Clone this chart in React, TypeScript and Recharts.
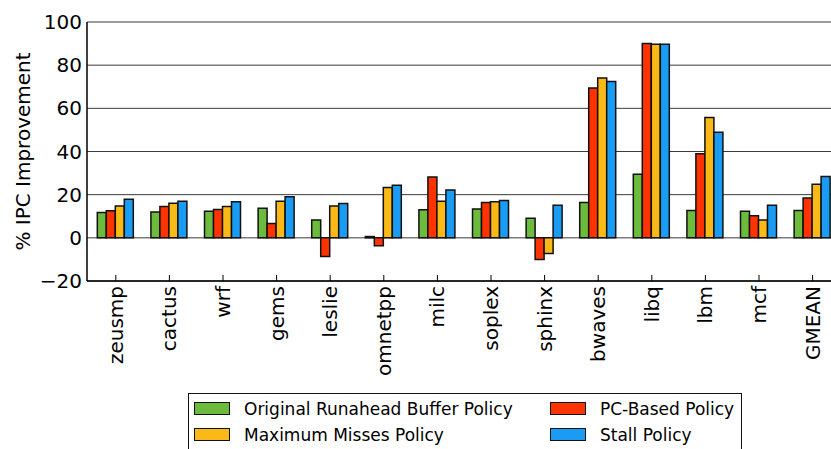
import { BarChart, Bar, XAxis, YAxis, CartesianGrid } from "recharts";

const categories = [
  "zeusmp", "cactus", "wrf", "gems", "leslie", "omnetpp", "milc",
  "soplex", "sphinx", "bwaves", "libq", "lbm", "mcf", "GMEAN",
];
const originalPolicy = [11.7, 12.0, 12.3, 13.7, 8.3, 0.6, 13.0, 13.4, 9.1, 16.4, 29.5, 12.7, 12.3, 12.7];
const pcBasedPolicy = [12.5, 14.5, 13.1, 6.6, -8.6, -3.7, 28.2, 16.4, -10.0, 69.4, 90.0, 39.0, 10.2, 18.4];
const maxMissesPolicy = [14.8, 16.0, 14.5, 17.0, 14.8, 23.3, 17.0, 16.7, -7.3, 74.1, 89.7, 55.7, 8.3, 24.8];
const stallPolicy = [17.9, 17.0, 16.7, 19.0, 15.9, 24.4, 22.2, 17.3, 15.1, 72.4, 89.7, 48.9, 15.1, 28.4];
const yTicks = [-20, 0, 20, 40, 60, 80, 100];

const series = [
  { key: "original", name: "Original Runahead Buffer Policy", color: "#6cbb3c" },
  { key: "pcBased", name: "PC-Based Policy", color: "#ff3300" },
  { key: "maxMisses", name: "Maximum Misses Policy", color: "#fbb917" },
  { key: "stall", name: "Stall Policy", color: "#1a9cf5" },
];

const data = categories.map((name, i) => ({
  name,
  original: originalPolicy[i],
  pcBased: pcBasedPolicy[i],
  maxMisses: maxMissesPolicy[i],
  stall: stallPolicy[i],
}));

const FONT = "'DejaVu Sans', sans-serif";

const BottomTick = (props: any) => {
  const { x, y, payload } = props;
  const ty = y + 5;
  return (
    <g>
      <line x1={x} y1={y} x2={x} y2={y - 6} stroke="#000" strokeWidth={1} />
      <text
        x={x}
        y={ty}
        transform={`rotate(-90, ${x}, ${ty})`}
        textAnchor="end"
        dominantBaseline="central"
        fontFamily={FONT}
        fontSize={20}
        fill="#000"
      >
        {payload.value}
      </text>
    </g>
  );
};

const TopTick = (props: any) => {
  const { x, y } = props;
  return <line x1={x} y1={y} x2={x} y2={y + 6} stroke="#000" strokeWidth={1} />;
};

function LegendBox() {
  // two rows, two columns like the matplotlib legend
  return (
    <div
      style={{
        position: "absolute",
        left: 188,
        top: 393,
        width: 554,
        height: 70,
        border: "1.5px solid #111",
        background: "#fff",
        fontFamily: FONT,
        fontSize: 17,
        color: "#000",
        boxSizing: "border-box",
      }}
    >
      {series.map((s, i) => {
        const col = i % 2;
        const row = Math.floor(i / 2);
        return (
          <div
            key={s.key}
            style={{
              position: "absolute",
              left: col === 0 ? 5 : 361,
              top: 4.5 + row * 26,
              display: "flex",
              alignItems: "center",
              whiteSpace: "nowrap",
              height: 20,
            }}
          >
            <span
              style={{
                display: "inline-block",
                width: 36,
                height: 12.5,
                background: s.color,
                border: "1.5px solid #111",
                boxSizing: "border-box",
                marginRight: 14,
              }}
            />
            <span>{s.name}</span>
          </div>
        );
      })}
    </div>
  );
}

export default function App() {
  return (
    <div
      style={{
        position: "absolute",
        left: 0,
        top: 0,
        width: 831,
        height: 449,
        overflow: "hidden",
        background: "#fff",
      }}
    >
      <BarChart
        width={850}
        height={449}
        data={data}
        margin={{ top: 22, right: 8.6, bottom: 88, left: 27 }}
        barGap={0}
        barCategoryGap="15.5%"
      >
        <CartesianGrid vertical={false} stroke="#3a3a3a" strokeWidth={1} />
        <XAxis
          dataKey="name"
          height={80}
          padding={{ left: 2, right: 2 }}
          tickSize={0}
          tickMargin={0}
          interval={0}
          tick={<BottomTick />}
          tickLine={false}
          axisLine={{ stroke: "#000", strokeWidth: 1.5 }}
        />
        <XAxis
          xAxisId="top"
          dataKey="name"
          orientation="top"
          height={0}
          padding={{ left: 2, right: 2 }}
          tickSize={0}
          tickMargin={0}
          interval={0}
          tick={<TopTick />}
          tickLine={false}
          axisLine={{ stroke: "#000", strokeWidth: 1.5 }}
        />
        <YAxis
          width={60}
          domain={[-20, 100]}
          ticks={yTicks}
          interval={0}
          tickSize={0}
          tickMargin={5}
          tickLine={false}
          axisLine={{ stroke: "#000", strokeWidth: 1.5 }}
          tickFormatter={(v: number) => String(v).replace("-", "\u2212")}
          tick={{ fontFamily: FONT, fontSize: 20, fill: "#000" }}
          label={{
            value: "% IPC Improvement",
            angle: -90,
            position: "center",
            dx: -34,
            style: { fontFamily: FONT, fontSize: 20, fill: "#000", textAnchor: "middle" },
          }}
        />
        {series.map((s) => (
          <Bar
            key={s.key}
            dataKey={s.key}
            name={s.name}
            fill={s.color}
            stroke="#111"
            strokeWidth={1.5}
            isAnimationActive={false}
          />
        ))}
      </BarChart>
      <LegendBox />
    </div>
  );
}
